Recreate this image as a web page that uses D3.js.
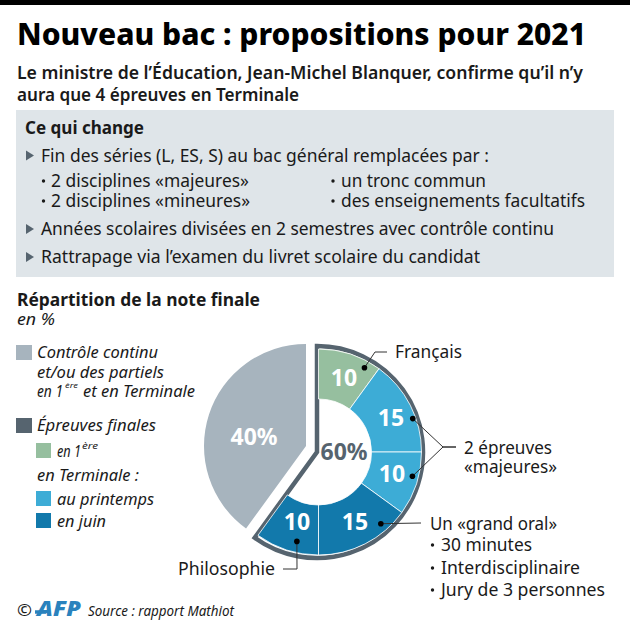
<!DOCTYPE html>
<html lang="fr">
<head>
<meta charset="UTF-8" />
<title>Nouveau bac</title>
<style>
  html, body { margin: 0; background: #fff; }
  svg { display: block; }
  text { font-family: "Noto Sans", "Open Sans", sans-serif; fill: #1a1a1a; }
  .it { font-style: italic; }
</style>
</head>
<body>
<script src="https://cdn.jsdelivr.net/npm/d3@7"></script>
<script>

// values in % of the final mark
var controle = [40];
var sliceNames = ["Français", "Printemps 1", "Printemps 2", "Juin 1", "Philosophie"];
var sliceValues = [10, 15, 10, 15, 10];
var sliceColors = ["#96bf9f", "#3dacd6", "#3dacd6", "#1279ab", "#1279ab"];

var grey = "#a7b4be", dark = "#56646f";

var w = 630, h = 630;
var svg = d3.select("body").append("svg").attr("width", w).attr("height", h);

// t(text, x, baseline, size, width, opts) : width squeezes the text to the reference's length
function t(str, x, y, size, width, o) {
  o = o || {};
  var n = svg.append("text").attr("x", x).attr("y", y).attr("font-size", size).text(str);
  if (width) n.attr("textLength", width).attr("lengthAdjust", "spacingAndGlyphs");
  if (o.bold) n.attr("font-weight", o.bold === true ? 700 : o.bold);
  if (o.it) n.attr("class", "it");
  if (o.fill) n.style("fill", o.fill);
  if (o.anchor) n.attr("text-anchor", o.anchor);
  return n;
}

// small list bullet, separate so that it stays smaller than the line's text
function bullet(x, y) {
  svg.append("circle").attr("cx", x).attr("cy", y - 6).attr("r", 1.7).attr("fill", "#1a1a1a");
}

// header
svg.append("rect").attr("width", w).attr("height", 5).attr("fill", "#000");
t("Nouveau bac : propositions pour 2021", 17, 45, 31, 569, { bold: 800, fill: "#000" });
t("Le ministre de l’Éducation, Jean-Michel Blanquer, confirme qu’il n’y", 17, 79, 18, 566, { bold: 600 });
t("aura que 4 épreuves en Terminale", 17, 101, 18, 282, { bold: 600 });

// "ce qui change" box
svg.append("rect").attr("x", 16).attr("y", 110).attr("width", 598).attr("height", 167).attr("fill", "#dfe5e9");
t("Ce qui change", 25, 134, 18, 119, { bold: 700 });

var arrows = [155.5, 229, 257];
svg.selectAll(".arrow").data(arrows).enter().append("path")
  .attr("class", "arrow")
  .attr("d", function(d) { return "M26," + (d - 5) + "L34," + d + "L26," + (d + 5) + "Z"; })
  .attr("fill", dark);

t("Fin des séries (L, ES, S) au bac général remplacées par :", 41, 162, 18, 448);
bullet(43.5, 187);
t("2 disciplines «majeures»", 51, 187, 18, 198);
bullet(43.5, 207);
t("2 disciplines «mineures»", 51, 207, 18, 199);
bullet(333, 187);
t("un tronc commun", 341, 187, 18, 145);
bullet(333, 207);
t("des enseignements facultatifs", 341, 207, 18, 244);
t("Années scolaires divisées en 2 semestres avec contrôle continu", 41, 235, 18, 513);
t("Rattrapage via l’examen du livret scolaire du candidat", 41, 262.5, 18, 439);

// legend
t("Répartition de la note finale", 17, 306, 17.5, 243, { bold: 700 });
t("en %", 17, 325, 16.5, 38, { it: true });

var swatches = [
  { x: 16, y: 345, s: 16, c: grey },
  { x: 16, y: 418, s: 16, c: dark },
  { x: 36, y: 443, s: 15, c: "#96bf9f" },
  { x: 36, y: 491, s: 15, c: "#3dacd6" },
  { x: 36, y: 513, s: 15, c: "#1279ab" }
];
svg.selectAll(".swatch").data(swatches).enter().append("rect")
  .attr("class", "swatch")
  .attr("x", function(d) { return d.x; }).attr("y", function(d) { return d.y; })
  .attr("width", function(d) { return d.s; }).attr("height", 15)
  .attr("fill", function(d) { return d.c; });

t("Contrôle continu", 37, 358, 16.5, 121, { it: true });
t("et/ou des partiels", 37, 378, 16.5, 127, { it: true });
t("en 1", 37, 397, 16.5, 26, { it: true });
t("ère", 65, 388, 7.5, 13, { it: true });
t("et en Terminale", 83, 397, 16.5, 112, { it: true });
t("Épreuves finales", 37, 431, 16.5, 119, { it: true });
t("en 1", 57, 457, 16.5, 24, { it: true });
t("ère", 82, 449, 9, 16, { it: true });
t("en Terminale :", 37, 481, 16.5, 102, { it: true });
t("au printemps", 57, 505, 16.5, 97, { it: true });
t("en juin", 57, 527, 16.5, 49, { it: true });

// pie
var cx = 318.5, cy = 452;
var R = 103, r0 = 53;
var deg = Math.PI / 180;

var pie = d3.pie().sort(null).startAngle(0).endAngle(216 * deg);
var arcs = pie(sliceValues);
var arc = d3.arc().innerRadius(r0).outerRadius(R);

// 40% block, pulled away from the 60% block
var greyPie = d3.pie().sort(null).startAngle(216 * deg).endAngle(360 * deg)(controle);
svg.append("path")
  .attr("transform", "translate(306,446)")
  .attr("d", d3.arc().innerRadius(0).outerRadius(102)(greyPie[0]))
  .attr("fill", grey);

// dark outline of the 60% block
svg.append("path")
  .attr("transform", "translate(" + (cx - 1.5) + "," + cy + ")")
  .attr("d", d3.arc().innerRadius(0).outerRadius(106)({ startAngle: 0, endAngle: 216 * deg }))
  .attr("fill", "none")
  .attr("stroke", dark)
  .attr("stroke-width", 4.5)
  .attr("stroke-miterlimit", 10);

var g = svg.append("g").attr("transform", "translate(" + cx + "," + cy + ")");
g.selectAll(".slice").data(arcs).enter().append("path")
  .attr("class", "slice")
  .attr("d", arc)
  .attr("fill", function(d, i) { return sliceColors[i]; })
  .attr("stroke", "#fff")
  .attr("stroke-width", 0.8);

// slice values
var labelPos = [[344, 378], [391, 418], [392, 474], [355, 522], [297, 522]];
svg.selectAll(".val").data(sliceValues).enter().append("text")
  .attr("class", "val")
  .attr("x", function(d, i) { return labelPos[i][0]; })
  .attr("y", function(d, i) { return labelPos[i][1] + 8; })
  .attr("text-anchor", "middle")
  .attr("font-size", 23)
  .attr("font-weight", 700)
  .style("fill", "#fff")
  .text(function(d) { return d; });

t("40%", 254, 445, 23, 47, { bold: 700, fill: "#fff", anchor: "middle" });
t("60%", 344, 460, 23, 47, { bold: 700, fill: dark, anchor: "middle" });

// leader lines : [angle in degrees, radius of the dot, polyline to the label]
var leaders = [
  { a: 28.6, r: 96, to: [[375, 352], [387, 352]] },
  { a: 70.5, r: 100, to: [[443, 447], [456, 447]] },
  { a: 104.5, r: 97, to: [[443, 447], [456, 447]] },
  { a: 139, r: 95, to: [[421, 523]] },
  { a: 193.6, r: 92, to: [[297, 569], [283, 569]] }
];
leaders.forEach(function(l) {
  var p = d3.pointRadial(l.a * deg, l.r);
  var pts = [[cx + p[0], cy + p[1]]].concat(l.to);
  svg.append("path").attr("d", d3.line()(pts)).attr("fill", "none").attr("stroke", "#333").attr("stroke-width", 1);
  svg.append("circle").attr("cx", pts[0][0]).attr("cy", pts[0][1]).attr("r", 2.8).attr("fill", "#000");
});

t("Français", 395, 358, 18, 67);
t("2 épreuves", 464, 454, 18, 88);
t("«majeures»", 464, 473, 18, 93);
t("Un «grand oral»", 430, 530, 18, 127);
bullet(432.5, 551);
t("30 minutes", 441, 551, 18, 91);
bullet(432.5, 574);
t("Interdisciplinaire", 441, 574, 18, 139);
bullet(432.5, 596);
t("Jury de 3 personnes", 441, 596, 18, 164);
t("Philosophie", 178, 575, 18, 97);

// credit
t("©", 17, 616, 16.5, 15);
svg.append("path").attr("d", "M35,612H46").attr("stroke", "#2a82bd").attr("stroke-width", 3.5);
t("AFP", 37, 616, 21, 44, { bold: 900, fill: "#2a82bd" }).attr("class", "it");
t("Source : rapport Mathiot", 88, 616, 14, 146, { it: true });

</script>
</body>
</html>
